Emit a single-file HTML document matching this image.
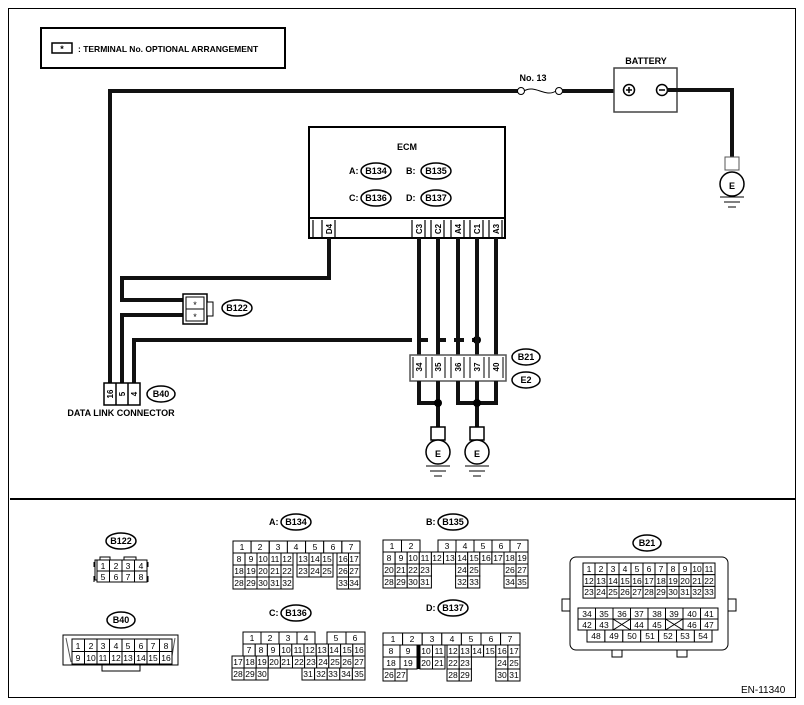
<!DOCTYPE html>
<html><head><meta charset="utf-8"><style>
html,body{margin:0;padding:0;background:#fff}
svg{display:block;font-family:"Liberation Sans",Arial,sans-serif}
.t{font-size:9px;text-anchor:middle}
.b{font-weight:bold}
.c rect{fill:#fff;stroke:#000;stroke-width:1}
.c text{font-size:8.5px;text-anchor:middle}
.w{stroke:#111;stroke-width:4;fill:none}
</style></head><body>
<svg width="804" height="705" viewBox="0 0 804 705" xmlns="http://www.w3.org/2000/svg">
<!-- frame -->
<rect x="8.5" y="8.5" width="787" height="689" fill="none" stroke="#000" stroke-width="1"/>
<line x1="10" y1="499" x2="795" y2="499" stroke="#000" stroke-width="2"/>
<!-- legend -->
<rect x="41" y="28" width="244" height="40" fill="none" stroke="#000" stroke-width="2"/>
<rect x="52" y="43" width="20" height="10" fill="none" stroke="#000" stroke-width="1.5"/>
<text x="62" y="52" class="t b" font-size="10">*</text>
<text x="78" y="52" font-size="8.5" font-weight="bold">: TERMINAL No. OPTIONAL ARRANGEMENT</text>

<!-- top wire -->
<polyline class="w" points="110,383 110,91 518,91"/>
<circle cx="521" cy="91" r="3.5" fill="#fff" stroke="#000"/>
<path d="M524,91 C535,84 545,98 556,91" fill="none" stroke="#000"/>
<circle cx="559" cy="91" r="3.5" fill="#fff" stroke="#000"/>
<line class="w" x1="562" y1="91" x2="624" y2="91"/>
<text x="533" y="81" class="t b" font-size="8">No. 13</text>
<text x="646" y="64" class="t b" font-size="8">BATTERY</text>
<rect x="614" y="68" width="63" height="44" fill="#fff" stroke="#444" stroke-width="1.5"/>
<circle cx="629" cy="90" r="5.5" fill="#fff" stroke="#000" stroke-width="1.5"/>
<path d="M626,90h6M629,87v6" stroke="#000" stroke-width="1.5"/>
<circle cx="662" cy="90" r="5.5" fill="#fff" stroke="#000" stroke-width="1.5"/>
<path d="M659,90h6" stroke="#000" stroke-width="1.5"/>
<polyline class="w" points="667,90 732,90 732,157"/>
<!-- ground right -->
<rect x="725" y="157" width="14" height="13" fill="#fff" stroke="#555"/>
<circle cx="732" cy="184" r="12" fill="#fff" stroke="#000" stroke-width="1.5"/>
<text x="732" y="189" class="t b" font-size="13">E</text>
<path d="M720,197h24M724,202h16M728,207h8" stroke="#000"/>

<!-- ECM -->
<rect x="309" y="127" width="196" height="111" fill="#fff" stroke="#000" stroke-width="2"/>
<line x1="309" y1="218" x2="505" y2="218" stroke="#000" stroke-width="2"/>
<text x="407" y="150" class="t b" font-size="8.5">ECM</text>
<g font-size="9" font-weight="bold">
<text x="349" y="174">A:</text><ellipse cx="376" cy="171" rx="15" ry="8" fill="none" stroke="#000" stroke-width="1.5"/><text x="376" y="174" class="t b">B134</text>
<text x="406" y="174">B:</text><ellipse cx="436" cy="171" rx="15" ry="8" fill="none" stroke="#000" stroke-width="1.5"/><text x="436" y="174" class="t b">B135</text>
<text x="349" y="201">C:</text><ellipse cx="376" cy="198" rx="15" ry="8" fill="none" stroke="#000" stroke-width="1.5"/><text x="376" y="201" class="t b">B136</text>
<text x="406" y="201">D:</text><ellipse cx="436" cy="198" rx="15" ry="8" fill="none" stroke="#000" stroke-width="1.5"/><text x="436" y="201" class="t b">B137</text>
</g>
<g stroke="#000" stroke-width="1.2" fill="none">
<path d="M313,220v18M322,220v18M335,220v18M412,220v18M425,220v18M431,220v18M444,220v18M451,220v18M464,220v18M470,220v18M483,220v18M489,220v18M502,220v18"/>
</g>
<g font-size="8" font-weight="bold" text-anchor="middle">
<text transform="translate(332,229) rotate(-90)" y="0">D4</text>
<text transform="translate(422,229) rotate(-90)">C3</text>
<text transform="translate(441,229) rotate(-90)">C2</text>
<text transform="translate(461,229) rotate(-90)">A4</text>
<text transform="translate(480,229) rotate(-90)">C1</text>
<text transform="translate(499,229) rotate(-90)">A3</text>
</g>
<!-- D4 wire / B122 -->
<polyline class="w" points="329,238 329,278 122,278 122,300 183,300"/>
<polyline class="w" points="183,315 122,315 122,383"/>
<rect x="183" y="294" width="24" height="30" fill="#fff" stroke="#000" stroke-width="1.5"/>
<rect x="186" y="297" width="18" height="12" fill="#fff" stroke="#000"/>
<rect x="186" y="309" width="18" height="12" fill="#fff" stroke="#000"/>
<rect x="207" y="302" width="6" height="14" fill="#fff" stroke="#000"/>
<text x="195" y="308" class="t" font-size="10">*</text>
<text x="195" y="320" class="t" font-size="10">*</text>
<ellipse cx="237" cy="308" rx="15" ry="8" fill="none" stroke="#000" stroke-width="1.5"/><text x="237" y="311" class="t b" font-size="8.5">B122</text>
<!-- pin4 wire -->
<polyline class="w" points="134,383 134,340 412,340"/>
<path d="M418,340h60" stroke="#111" stroke-width="4" stroke-dasharray="10,8"/>
<circle cx="477" cy="340" r="4" fill="#000"/>
<!-- ECM to B21 wires -->
<path class="w" d="M419,238v117M438,238v117M458,238v117M477,238v117M496,238v117"/>
<!-- B21 connector -->
<rect x="410" y="355" width="96" height="26" fill="#fff" stroke="#555" stroke-width="1.5"/>
<g stroke="#000" fill="none"><path d="M413,357v21M426,357v21M432,357v21M445,357v21M451,357v21M464,357v21M470,357v21M484,357v21M489,357v21M503,357v21"/></g>
<g font-size="8" font-weight="bold" text-anchor="middle">
<text transform="translate(422,367) rotate(-90)">34</text>
<text transform="translate(441,367) rotate(-90)">35</text>
<text transform="translate(461,367) rotate(-90)">36</text>
<text transform="translate(480,367) rotate(-90)">37</text>
<text transform="translate(499,367) rotate(-90)">40</text>
</g>
<ellipse cx="526" cy="357" rx="14" ry="8" fill="#fff" stroke="#000" stroke-width="1.5"/><text x="526" y="360" class="t b" font-size="8.5">B21</text>
<ellipse cx="526" cy="380" rx="14" ry="8" fill="#fff" stroke="#000" stroke-width="1.5"/><text x="526" y="383" class="t b" font-size="8.5">E2</text>
<polyline class="w" points="419,381 419,403 438,403 438,381"/>
<polyline class="w" points="458,381 458,403 496,403 496,381"/>
<path class="w" d="M477,381v46M438,403v24"/>
<circle cx="438" cy="403" r="4" fill="#000"/><circle cx="477" cy="403" r="4" fill="#000"/>
<g>
<rect x="431" y="427" width="14" height="13" fill="#fff" stroke="#000" stroke-width="1.5"/>
<circle cx="438" cy="452" r="12" fill="#fff" stroke="#000" stroke-width="1.5"/>
<text x="438" y="457" class="t b" font-size="13">E</text>
<path d="M426,466h24M430,471h16M434,476h8" stroke="#000"/>
<rect x="470" y="427" width="14" height="13" fill="#fff" stroke="#000" stroke-width="1.5"/>
<circle cx="477" cy="452" r="12" fill="#fff" stroke="#000" stroke-width="1.5"/>
<text x="477" y="457" class="t b" font-size="13">E</text>
<path d="M465,466h24M469,471h16M473,476h8" stroke="#000"/>
</g>
<!-- B40 data link -->
<rect x="104" y="383" width="36" height="22" fill="#fff" stroke="#000" stroke-width="1.5"/>
<path d="M116,383v22M128,383v22" stroke="#000" stroke-width="1.5"/>
<g font-size="8" font-weight="bold" text-anchor="middle">
<text transform="translate(113,394) rotate(-90)">16</text>
<text transform="translate(125,394) rotate(-90)">5</text>
<text transform="translate(137,394) rotate(-90)">4</text>
</g>
<ellipse cx="161" cy="394" rx="14" ry="8" fill="none" stroke="#000" stroke-width="1.5"/><text x="161" y="397" class="t b" font-size="8.5">B40</text>
<text x="121" y="416" class="t b" font-size="8">DATA LINK CONNECTOR</text>

<!-- ===== bottom connectors ===== -->
<g font-size="9" font-weight="bold">
<ellipse cx="121" cy="541" rx="15" ry="8" fill="none" stroke="#000" stroke-width="1.5"/><text x="121" y="544" class="t b">B122</text>
<ellipse cx="121" cy="620" rx="14" ry="8" fill="none" stroke="#000" stroke-width="1.5"/><text x="121" y="623" class="t b">B40</text>
<text x="269" y="525">A:</text><ellipse cx="296" cy="522" rx="15" ry="8" fill="none" stroke="#000" stroke-width="1.5"/><text x="296" y="525" class="t b">B134</text>
<text x="269" y="616">C:</text><ellipse cx="296" cy="613" rx="15" ry="8" fill="none" stroke="#000" stroke-width="1.5"/><text x="296" y="616" class="t b">B136</text>
<text x="426" y="525">B:</text><ellipse cx="453" cy="522" rx="15" ry="8" fill="none" stroke="#000" stroke-width="1.5"/><text x="453" y="525" class="t b">B135</text>
<text x="426" y="611">D:</text><ellipse cx="453" cy="608" rx="15" ry="8" fill="none" stroke="#000" stroke-width="1.5"/><text x="453" y="611" class="t b">B137</text>
<ellipse cx="647" cy="543" rx="14" ry="8" fill="none" stroke="#000" stroke-width="1.5"/><text x="647" y="546" class="t b">B21</text>
</g>

<!-- B122 -->
<g class="c">
<path d="M95,560h5v-3h10v3h14v-3h12v3h10v20h-51z" fill="#fff" stroke="#000"/>
<rect x="97" y="560" width="12.5" height="11"/><text x="103" y="569">1</text>
<rect x="109.5" y="560" width="12.5" height="11"/><text x="116" y="569">2</text>
<rect x="122" y="560" width="12.5" height="11"/><text x="128" y="569">3</text>
<rect x="134.5" y="560" width="12.5" height="11"/><text x="141" y="569">4</text>
<rect x="97" y="571" width="12.5" height="11"/><text x="103" y="580">5</text>
<rect x="109.5" y="571" width="12.5" height="11"/><text x="116" y="580">6</text>
<rect x="122" y="571" width="12.5" height="11"/><text x="128" y="580">7</text>
<rect x="134.5" y="571" width="12.5" height="11"/><text x="141" y="580">8</text>
<path d="M94,562v5M94,576v6M148,562v5M148,576v6" stroke="#000" fill="none"/>
</g>

<!-- B40 -->
<g class="c">
<rect x="102" y="664" width="38" height="7"/>
<rect x="63" y="635" width="115" height="30" stroke="#555"/>
<path d="M66,638l5,24M175,638l-4,24" stroke="#555" fill="none"/>
<rect x="72" y="639" width="12.5" height="12.5"/><text x="78" y="649">1</text>
<rect x="84.5" y="639" width="12.5" height="12.5"/><text x="91" y="649">2</text>
<rect x="97" y="639" width="12.5" height="12.5"/><text x="103" y="649">3</text>
<rect x="109.5" y="639" width="12.5" height="12.5"/><text x="116" y="649">4</text>
<rect x="122" y="639" width="12.5" height="12.5"/><text x="128" y="649">5</text>
<rect x="134.5" y="639" width="12.5" height="12.5"/><text x="141" y="649">6</text>
<rect x="147" y="639" width="12.5" height="12.5"/><text x="153" y="649">7</text>
<rect x="159.5" y="639" width="12.5" height="12.5"/><text x="166" y="649">8</text>
<rect x="72" y="651.5" width="12.5" height="12.5"/><text x="78" y="661">9</text>
<rect x="84.5" y="651.5" width="12.5" height="12.5"/><text x="91" y="661">10</text>
<rect x="97" y="651.5" width="12.5" height="12.5"/><text x="103" y="661">11</text>
<rect x="109.5" y="651.5" width="12.5" height="12.5"/><text x="116" y="661">12</text>
<rect x="122" y="651.5" width="12.5" height="12.5"/><text x="128" y="661">13</text>
<rect x="134.5" y="651.5" width="12.5" height="12.5"/><text x="141" y="661">14</text>
<rect x="147" y="651.5" width="12.5" height="12.5"/><text x="153" y="661">15</text>
<rect x="159.5" y="651.5" width="12.5" height="12.5"/><text x="166" y="661">16</text>
</g>

<!-- B134 -->
<g class="c">
<rect x="233" y="541" width="18.1" height="12"/><text x="242" y="550">1</text>
<rect x="251.1" y="541" width="18.1" height="12"/><text x="260" y="550">2</text>
<rect x="269.3" y="541" width="18.1" height="12"/><text x="278" y="550">3</text>
<rect x="287.4" y="541" width="18.1" height="12"/><text x="296" y="550">4</text>
<rect x="305.6" y="541" width="18.1" height="12"/><text x="315" y="550">5</text>
<rect x="323.7" y="541" width="18.1" height="12"/><text x="333" y="550">6</text>
<rect x="341.9" y="541" width="18.1" height="12"/><text x="351" y="550">7</text>
<rect x="233" y="553" width="12" height="12"/><text x="239" y="562">8</text>
<rect x="245" y="553" width="12" height="12"/><text x="251" y="562">9</text>
<rect x="257" y="553" width="12" height="12"/><text x="263" y="562">10</text>
<rect x="269" y="553" width="12" height="12"/><text x="275" y="562">11</text>
<rect x="281" y="553" width="12" height="12"/><text x="287" y="562">12</text>
<rect x="297" y="553" width="12" height="12"/><text x="303" y="562">13</text>
<rect x="309" y="553" width="12" height="12"/><text x="315" y="562">14</text>
<rect x="321" y="553" width="12" height="12"/><text x="327" y="562">15</text>
<rect x="337" y="553" width="11.5" height="12"/><text x="343" y="562">16</text>
<rect x="348.5" y="553" width="11.5" height="12"/><text x="354" y="562">17</text>
<rect x="233" y="565" width="12" height="12"/><text x="239" y="574">18</text>
<rect x="245" y="565" width="12" height="12"/><text x="251" y="574">19</text>
<rect x="257" y="565" width="12" height="12"/><text x="263" y="574">20</text>
<rect x="269" y="565" width="12" height="12"/><text x="275" y="574">21</text>
<rect x="281" y="565" width="12" height="12"/><text x="287" y="574">22</text>
<rect x="297" y="565" width="12" height="12"/><text x="303" y="574">23</text>
<rect x="309" y="565" width="12" height="12"/><text x="315" y="574">24</text>
<rect x="321" y="565" width="12" height="12"/><text x="327" y="574">25</text>
<rect x="337" y="565" width="11.5" height="12"/><text x="343" y="574">26</text>
<rect x="348.5" y="565" width="11.5" height="12"/><text x="354" y="574">27</text>
<rect x="233" y="577" width="12" height="12"/><text x="239" y="586">28</text>
<rect x="245" y="577" width="12" height="12"/><text x="251" y="586">29</text>
<rect x="257" y="577" width="12" height="12"/><text x="263" y="586">30</text>
<rect x="269" y="577" width="12" height="12"/><text x="275" y="586">31</text>
<rect x="281" y="577" width="12" height="12"/><text x="287" y="586">32</text>
<rect x="337" y="577" width="11.5" height="12"/><text x="343" y="586">33</text>
<rect x="348.5" y="577" width="11.5" height="12"/><text x="354" y="586">34</text>
</g>

<!-- B136 -->
<g class="c">
<rect x="243" y="632" width="18" height="12"/><text x="252" y="641">1</text>
<rect x="261" y="632" width="18" height="12"/><text x="270" y="641">2</text>
<rect x="279" y="632" width="18" height="12"/><text x="288" y="641">3</text>
<rect x="297" y="632" width="18" height="12"/><text x="306" y="641">4</text>
<rect x="327" y="632" width="19" height="12"/><text x="336" y="641">5</text>
<rect x="346" y="632" width="19" height="12"/><text x="355" y="641">6</text>
<rect x="243" y="644" width="12.2" height="12"/><text x="249" y="653">7</text>
<rect x="255.2" y="644" width="12.2" height="12"/><text x="261" y="653">8</text>
<rect x="267.4" y="644" width="12.2" height="12"/><text x="273" y="653">9</text>
<rect x="279.6" y="644" width="12.2" height="12"/><text x="286" y="653">10</text>
<rect x="291.8" y="644" width="12.2" height="12"/><text x="298" y="653">11</text>
<rect x="304" y="644" width="12.2" height="12"/><text x="310" y="653">12</text>
<rect x="316.2" y="644" width="12.2" height="12"/><text x="322" y="653">13</text>
<rect x="328.4" y="644" width="12.2" height="12"/><text x="334" y="653">14</text>
<rect x="340.6" y="644" width="12.2" height="12"/><text x="347" y="653">15</text>
<rect x="352.8" y="644" width="12.2" height="12"/><text x="359" y="653">16</text>
<rect x="232" y="656" width="12.1" height="12"/><text x="238" y="665">17</text>
<rect x="244.1" y="656" width="12.1" height="12"/><text x="250" y="665">18</text>
<rect x="256.2" y="656" width="12.1" height="12"/><text x="262" y="665">19</text>
<rect x="268.3" y="656" width="12.1" height="12"/><text x="274" y="665">20</text>
<rect x="280.4" y="656" width="12.1" height="12"/><text x="286" y="665">21</text>
<rect x="292.5" y="656" width="12.1" height="12"/><text x="299" y="665">22</text>
<rect x="304.6" y="656" width="12.1" height="12"/><text x="311" y="665">23</text>
<rect x="316.7" y="656" width="12.1" height="12"/><text x="323" y="665">24</text>
<rect x="328.8" y="656" width="12.1" height="12"/><text x="335" y="665">25</text>
<rect x="340.9" y="656" width="12.1" height="12"/><text x="347" y="665">26</text>
<rect x="353" y="656" width="12" height="12"/><text x="359" y="665">27</text>
<rect x="232" y="668" width="12" height="12"/><text x="238" y="677">28</text>
<rect x="244" y="668" width="12" height="12"/><text x="250" y="677">29</text>
<rect x="256" y="668" width="12" height="12"/><text x="262" y="677">30</text>
<rect x="302" y="668" width="12.6" height="12"/><text x="308" y="677">31</text>
<rect x="314.6" y="668" width="12.6" height="12"/><text x="321" y="677">32</text>
<rect x="327.2" y="668" width="12.6" height="12"/><text x="333" y="677">33</text>
<rect x="339.8" y="668" width="12.6" height="12"/><text x="346" y="677">34</text>
<rect x="352.4" y="668" width="12.6" height="12"/><text x="359" y="677">35</text>
</g>

<!-- B135 -->
<g class="c">
<rect x="383" y="540" width="18.5" height="12"/><text x="392" y="549">1</text>
<rect x="401.5" y="540" width="18.5" height="12"/><text x="411" y="549">2</text>
<rect x="438" y="540" width="18" height="12"/><text x="447" y="549">3</text>
<rect x="456" y="540" width="18" height="12"/><text x="465" y="549">4</text>
<rect x="474" y="540" width="18" height="12"/><text x="483" y="549">5</text>
<rect x="492" y="540" width="18" height="12"/><text x="501" y="549">6</text>
<rect x="510" y="540" width="18" height="12"/><text x="519" y="549">7</text>
<rect x="383" y="552" width="12.1" height="12"/><text x="389" y="561">8</text>
<rect x="395.1" y="552" width="12.1" height="12"/><text x="401" y="561">9</text>
<rect x="407.2" y="552" width="12.1" height="12"/><text x="413" y="561">10</text>
<rect x="419.3" y="552" width="12.1" height="12"/><text x="425" y="561">11</text>
<rect x="431.4" y="552" width="12.1" height="12"/><text x="437" y="561">12</text>
<rect x="443.5" y="552" width="12.1" height="12"/><text x="450" y="561">13</text>
<rect x="455.6" y="552" width="12.1" height="12"/><text x="462" y="561">14</text>
<rect x="467.7" y="552" width="12.1" height="12"/><text x="474" y="561">15</text>
<rect x="479.8" y="552" width="12.1" height="12"/><text x="486" y="561">16</text>
<rect x="491.9" y="552" width="12.1" height="12"/><text x="498" y="561">17</text>
<rect x="504" y="552" width="12" height="12"/><text x="510" y="561">18</text>
<rect x="516" y="552" width="12" height="12"/><text x="522" y="561">19</text>
<rect x="383" y="564" width="12.1" height="12"/><text x="389" y="573">20</text>
<rect x="395.1" y="564" width="12.1" height="12"/><text x="401" y="573">21</text>
<rect x="407.2" y="564" width="12.1" height="12"/><text x="413" y="573">22</text>
<rect x="419.3" y="564" width="12.1" height="12"/><text x="425" y="573">23</text>
<rect x="455.6" y="564" width="12.1" height="12"/><text x="462" y="573">24</text>
<rect x="467.7" y="564" width="12.1" height="12"/><text x="474" y="573">25</text>
<rect x="504" y="564" width="12" height="12"/><text x="510" y="573">26</text>
<rect x="516" y="564" width="12" height="12"/><text x="522" y="573">27</text>
<rect x="383" y="576" width="12.1" height="12"/><text x="389" y="585">28</text>
<rect x="395.1" y="576" width="12.1" height="12"/><text x="401" y="585">29</text>
<rect x="407.2" y="576" width="12.1" height="12"/><text x="413" y="585">30</text>
<rect x="419.3" y="576" width="12.1" height="12"/><text x="425" y="585">31</text>
<rect x="455.6" y="576" width="12.1" height="12"/><text x="462" y="585">32</text>
<rect x="467.7" y="576" width="12.1" height="12"/><text x="474" y="585">33</text>
<rect x="504" y="576" width="12" height="12"/><text x="510" y="585">34</text>
<rect x="516" y="576" width="12" height="12"/><text x="522" y="585">35</text>
</g>

<!-- B137 -->
<g class="c">
<rect x="383" y="633" width="19.6" height="12"/><text x="393" y="642">1</text>
<rect x="402.6" y="633" width="19.6" height="12"/><text x="412" y="642">2</text>
<rect x="422.2" y="633" width="19.6" height="12"/><text x="432" y="642">3</text>
<rect x="441.8" y="633" width="19.6" height="12"/><text x="452" y="642">4</text>
<rect x="461.4" y="633" width="19.6" height="12"/><text x="471" y="642">5</text>
<rect x="481" y="633" width="19.6" height="12"/><text x="491" y="642">6</text>
<rect x="500.6" y="633" width="19.4" height="12"/><text x="510" y="642">7</text>
<rect x="383" y="645" width="17" height="12"/><text x="391" y="654">8</text>
<rect x="400" y="645" width="17" height="12"/><text x="408" y="654">9</text>
<rect x="420" y="645" width="12.5" height="12"/><text x="426" y="654">10</text>
<rect x="432.5" y="645" width="12.5" height="12"/><text x="439" y="654">11</text>
<rect x="447" y="645" width="12.2" height="12"/><text x="453" y="654">12</text>
<rect x="459.2" y="645" width="12.2" height="12"/><text x="465" y="654">13</text>
<rect x="471.4" y="645" width="12.2" height="12"/><text x="477" y="654">14</text>
<rect x="483.6" y="645" width="12.2" height="12"/><text x="490" y="654">15</text>
<rect x="495.8" y="645" width="12.1" height="12"/><text x="502" y="654">16</text>
<rect x="507.9" y="645" width="12.1" height="12"/><text x="514" y="654">17</text>
<rect x="383" y="657" width="17" height="12"/><text x="391" y="666">18</text>
<rect x="400" y="657" width="17" height="12"/><text x="408" y="666">19</text>
<rect x="420" y="657" width="12.5" height="12"/><text x="426" y="666">20</text>
<rect x="432.5" y="657" width="12.5" height="12"/><text x="439" y="666">21</text>
<rect x="447" y="657" width="12.2" height="12"/><text x="453" y="666">22</text>
<rect x="459.2" y="657" width="12.2" height="12"/><text x="465" y="666">23</text>
<rect x="495.8" y="657" width="12.1" height="12"/><text x="502" y="666">24</text>
<rect x="507.9" y="657" width="12.1" height="12"/><text x="514" y="666">25</text>
<rect x="383" y="669" width="12" height="12"/><text x="389" y="678">26</text>
<rect x="395" y="669" width="12" height="12"/><text x="401" y="678">27</text>
<rect x="447" y="669" width="12.2" height="12"/><text x="453" y="678">28</text>
<rect x="459.2" y="669" width="12.2" height="12"/><text x="465" y="678">29</text>
<rect x="495.8" y="669" width="12.1" height="12"/><text x="502" y="678">30</text>
<rect x="507.9" y="669" width="12.1" height="12"/><text x="514" y="678">31</text>
<path d="M418.5,645v24" stroke="#000" stroke-width="2.5"/>
</g>

<!-- B21 -->
<g class="c">
<path d="M570,599h-8v12h8M728,599h8v12h-8M612,650v7h10v-7M677,650v7h10v-7" fill="#fff" stroke="#000"/>
<rect x="570" y="557" width="158" height="93" rx="6" stroke-width="1.2"/>
<rect x="583" y="563" width="12" height="11.7"/><text x="589" y="572">1</text>
<rect x="595" y="563" width="12" height="11.7"/><text x="601" y="572">2</text>
<rect x="607" y="563" width="12" height="11.7"/><text x="613" y="572">3</text>
<rect x="619" y="563" width="12" height="11.7"/><text x="625" y="572">4</text>
<rect x="631" y="563" width="12" height="11.7"/><text x="637" y="572">5</text>
<rect x="643" y="563" width="12" height="11.7"/><text x="649" y="572">6</text>
<rect x="655" y="563" width="12" height="11.7"/><text x="661" y="572">7</text>
<rect x="667" y="563" width="12" height="11.7"/><text x="673" y="572">8</text>
<rect x="679" y="563" width="12" height="11.7"/><text x="685" y="572">9</text>
<rect x="691" y="563" width="12" height="11.7"/><text x="697" y="572">10</text>
<rect x="703" y="563" width="12" height="11.7"/><text x="709" y="572">11</text>
<rect x="583" y="574.7" width="12" height="11.7"/><text x="589" y="584">12</text>
<rect x="595" y="574.7" width="12" height="11.7"/><text x="601" y="584">13</text>
<rect x="607" y="574.7" width="12" height="11.7"/><text x="613" y="584">14</text>
<rect x="619" y="574.7" width="12" height="11.7"/><text x="625" y="584">15</text>
<rect x="631" y="574.7" width="12" height="11.7"/><text x="637" y="584">16</text>
<rect x="643" y="574.7" width="12" height="11.7"/><text x="649" y="584">17</text>
<rect x="655" y="574.7" width="12" height="11.7"/><text x="661" y="584">18</text>
<rect x="667" y="574.7" width="12" height="11.7"/><text x="673" y="584">19</text>
<rect x="679" y="574.7" width="12" height="11.7"/><text x="685" y="584">20</text>
<rect x="691" y="574.7" width="12" height="11.7"/><text x="697" y="584">21</text>
<rect x="703" y="574.7" width="12" height="11.7"/><text x="709" y="584">22</text>
<rect x="583" y="586.4" width="12" height="11.7"/><text x="589" y="595">23</text>
<rect x="595" y="586.4" width="12" height="11.7"/><text x="601" y="595">24</text>
<rect x="607" y="586.4" width="12" height="11.7"/><text x="613" y="595">25</text>
<rect x="619" y="586.4" width="12" height="11.7"/><text x="625" y="595">26</text>
<rect x="631" y="586.4" width="12" height="11.7"/><text x="637" y="595">27</text>
<rect x="643" y="586.4" width="12" height="11.7"/><text x="649" y="595">28</text>
<rect x="655" y="586.4" width="12" height="11.7"/><text x="661" y="595">29</text>
<rect x="667" y="586.4" width="12" height="11.7"/><text x="673" y="595">30</text>
<rect x="679" y="586.4" width="12" height="11.7"/><text x="685" y="595">31</text>
<rect x="691" y="586.4" width="12" height="11.7"/><text x="697" y="595">32</text>
<rect x="703" y="586.4" width="12" height="11.7"/><text x="709" y="595">33</text>
<rect x="578" y="608" width="17.5" height="11"/><text x="587" y="617">34</text>
<rect x="595.5" y="608" width="17.5" height="11"/><text x="604" y="617">35</text>
<rect x="613" y="608" width="17.5" height="11"/><text x="622" y="617">36</text>
<rect x="630.5" y="608" width="17.5" height="11"/><text x="639" y="617">37</text>
<rect x="648" y="608" width="17.5" height="11"/><text x="657" y="617">38</text>
<rect x="665.5" y="608" width="17.5" height="11"/><text x="674" y="617">39</text>
<rect x="683" y="608" width="17.5" height="11"/><text x="692" y="617">40</text>
<rect x="700.5" y="608" width="17.5" height="11"/><text x="709" y="617">41</text>
<rect x="578" y="619" width="17.5" height="11"/><text x="587" y="628">42</text>
<rect x="595.5" y="619" width="17.5" height="11"/><text x="604" y="628">43</text>
<rect x="613" y="619" width="17.5" height="11"/>
<rect x="630.5" y="619" width="17.5" height="11"/><text x="639" y="628">44</text>
<rect x="648" y="619" width="17.5" height="11"/><text x="657" y="628">45</text>
<rect x="665.5" y="619" width="17.5" height="11"/>
<rect x="683" y="619" width="17.5" height="11"/><text x="692" y="628">46</text>
<rect x="700.5" y="619" width="17.5" height="11"/><text x="709" y="628">47</text>
<path d="M613,619l17.5,11M630.5,619l-17.5,11M665.5,619l17.5,11M683,619l-17.5,11" stroke="#000" fill="none"/>
<rect x="587" y="630" width="17.9" height="12"/><text x="596" y="639">48</text>
<rect x="604.9" y="630" width="17.9" height="12"/><text x="614" y="639">49</text>
<rect x="622.8" y="630" width="17.9" height="12"/><text x="632" y="639">50</text>
<rect x="640.7" y="630" width="17.9" height="12"/><text x="650" y="639">51</text>
<rect x="658.6" y="630" width="17.9" height="12"/><text x="668" y="639">52</text>
<rect x="676.5" y="630" width="17.9" height="12"/><text x="685" y="639">53</text>
<rect x="694.4" y="630" width="17.6" height="12"/><text x="703" y="639">54</text>
</g>

<text x="741" y="693" font-size="10">EN-11340</text>
</svg>
</body></html>
